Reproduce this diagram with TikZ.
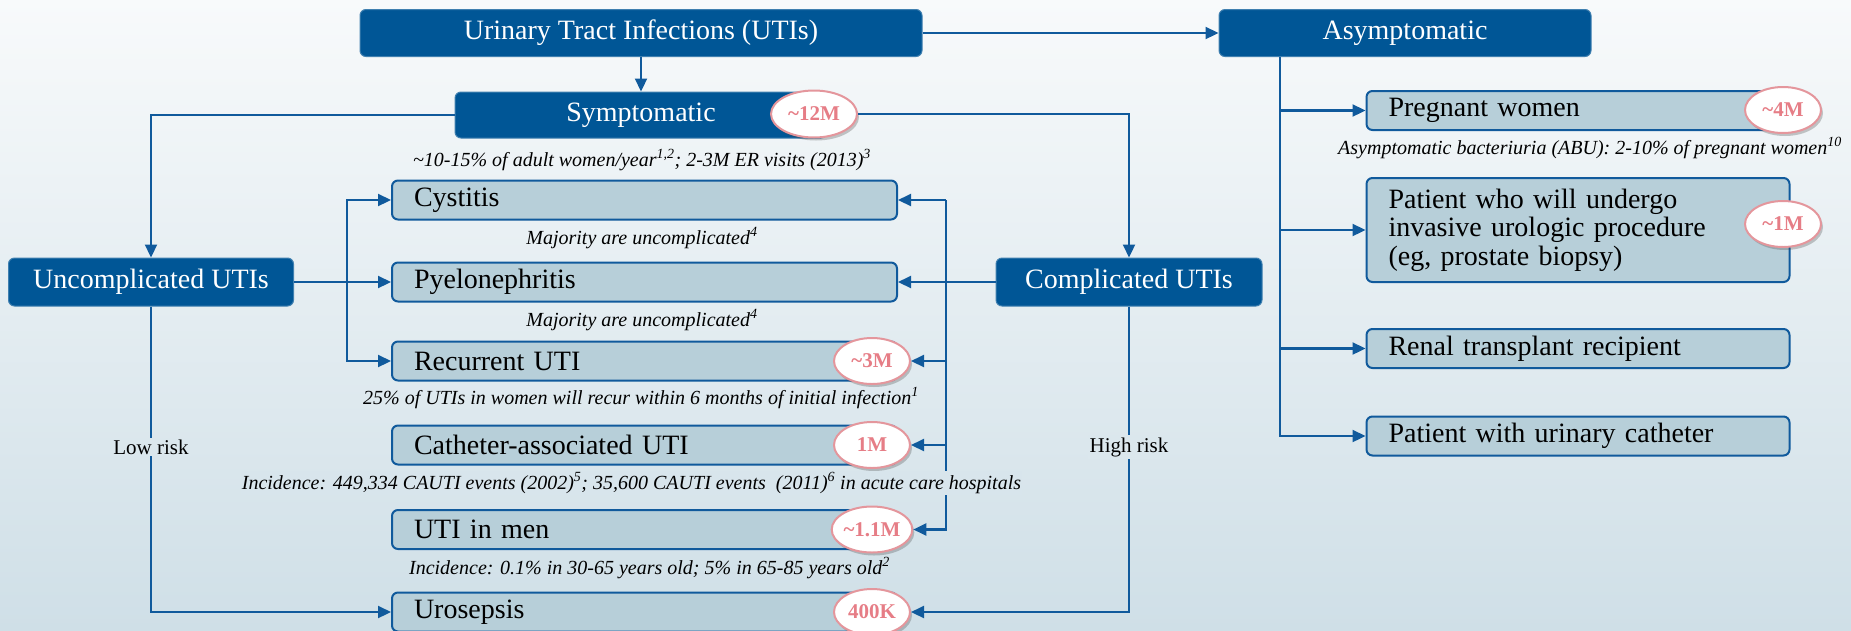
\documentclass[tikz,border=0pt]{standalone}
\usepackage{fontspec}
\setmainfont{Liberation Serif}
\usetikzlibrary{
        arrows.meta,
        positioning,
        shadows,
        shapes.geometric
    }
\definecolor{utiblue}{RGB}{0,86,150}
\definecolor{utiline}{RGB}{16,90,156}
\definecolor{lightfill}{RGB}{183,207,217}
\definecolor{badgeedge}{RGB}{228,150,156}
\definecolor{badgetext}{RGB}{230,125,134}
\definecolor{bgtop}{RGB}{248,250,251}
\definecolor{bgbot}{RGB}{207,223,231}
\tikzset{>={Triangle[length=13pt,width=12pt]}}
\tikzset{
    darkbox/.style={rectangle,rounded corners=6pt,fill=utiblue,draw=utiblue!75!white,
        line width=1pt,text=white,font={\fontsize{28}{32}\selectfont},
        minimum height=47pt,inner sep=0pt},
    lightbox/.style={rectangle,rounded corners=6pt,fill=lightfill,draw=utiline,
        line width=2pt,font={\fontsize{28}{28.5}\selectfont},text width=#1,
        inner xsep=22pt,inner ysep=0pt,minimum height=39pt,align=left},
    lightbox/.default=461pt,
    badge/.style={ellipse,fill=white,draw=badgeedge,line width=2pt,text=badgetext,
        font={\fontsize{21}{21}\selectfont\bfseries},minimum width=76pt,
        minimum height=46pt,inner sep=0pt,
        drop shadow={shadow xshift=2pt,shadow yshift=-3pt,opacity=.3,fill=black!70}},
    note/.style={font={\fontsize{20}{22}\selectfont\itshape},inner sep=1pt},
    risk/.style={font={\fontsize{21}{22}\selectfont},inner sep=2pt},
    conn/.style={->,draw=utiline,line width=2.2pt}
}

\begin{document}
\begin{tikzpicture}[x=1pt,y=-1pt]
    \useasboundingbox (0,0) rectangle (1851,630);
    \shade[top color=bgtop,bottom color=bgbot] (0,0) rectangle (1851,630);

    % top row
    \node[darkbox,minimum width=562pt] (uti)  at (641,33)  {Urinary Tract Infections (UTIs)};
    \node[darkbox,minimum width=372pt] (asym) at (1405,33) {Asymptomatic};
    \node[darkbox,minimum width=372pt,minimum height=46pt] (sym) at (641,115) {Symptomatic};
    \node[badge,minimum width=86pt,minimum height=47pt] (b12) at (814,114) {\textasciitilde12M};
    \node[darkbox,minimum width=285pt,minimum height=48pt] (uncomp) at (151,282) {Uncomplicated UTIs};
    \node[darkbox,minimum width=266pt,minimum height=48pt] (comp)   at (1129,282) {Complicated UTIs};

    % symptomatic types
    \node[lightbox] (cyst)  at (644.5,200)   {Cystitis};
    \node[lightbox] (pyelo) at (644.5,282)   {Pyelonephritis};
    \node[lightbox] (recur) at (644.5,361)   {Recurrent UTI};
    \node[lightbox] (cath)  at (644.5,445)   {Catheter-associated UTI};
    \node[lightbox] (men)   at (644.5,529.5) {UTI in men};
    \node[lightbox] (uro)   at (644.5,612)   {Urosepsis};
    \node[badge] (b3)    at (872,361)   {\textasciitilde3M};
    \node[badge] (bcath) at (872,445)   {1M};
    \node[badge] (bmen)  at (872,529.5) {\textasciitilde1.1M};
    \node[badge] (buro)  at (872,612)   {400K};

    % asymptomatic groups
    \node[lightbox=379pt] (preg)  at (1578,110.5) {Pregnant women};
    \node[lightbox=379pt,minimum height=104pt] (proc) at (1578,230)
        {Patient who will undergo\\invasive urologic procedure\\(eg, prostate biopsy)};
    \node[lightbox=379pt] (renal) at (1578,348.5) {Renal transplant recipient};
    \node[lightbox=379pt] (cathp) at (1578,436)   {Patient with urinary catheter};
    \node[badge] (bpreg) at (1783,110) {\textasciitilde4M};
    \node[badge] (bproc) at (1783,224) {\textasciitilde1M};

    % connectors
    \draw[conn] (uti.south) -- (sym.north);
    \draw[conn] (uti.east) -- (asym.west);
    \draw[conn] (sym.west) -| (uncomp.north);
    \draw[conn] (b12.east) -| (comp.north);

    \coordinate (lbus) at (347,282);
    \draw[conn] (uncomp.east) -- (pyelo.west);
    \draw[conn] (lbus) |- (cyst.west);
    \draw[conn] (lbus) |- (recur.west);

    \coordinate (rbus) at (946,200);
    \draw[conn] (comp.west) -- (pyelo.east);
    \draw[conn] (rbus) -- (cyst.east);
    \foreach \t in {b3,bcath,bmen}
        \draw[conn] (rbus) |- (\t.east);

    \draw[conn] (uncomp.south) |- node[risk,pos=.23,fill=bgbot!71!bgtop] {Low risk} (uro.west);
    \draw[conn] (comp.south) |- node[risk,pos=.23,fill=bgbot!71!bgtop] {High risk} (buro.east);

    \coordinate (trunk) at ([xshift=-125pt]asym.south);
    \foreach \t in {preg,proc,renal,cathp}
        \draw[conn] (trunk) |- (\t.west);

    % notes
    \node[note] (symnote)   at (642,160) {\textasciitilde10-15\% of adult women/year\textsuperscript{1,2}; 2-3M ER visits (2013)\textsuperscript{3}};
    \node[note] (cystnote)  at (642,238) {Majority are uncomplicated\textsuperscript{4}};
    \node[note] (pyelonote) at (642,320) {Majority are uncomplicated\textsuperscript{4}};
    \node[note] (recurnote) at (641,398) {25\% of UTIs in women will recur within 6 months of initial infection\textsuperscript{1}};
    \node[note,fill=bgbot!77!bgtop] (cathnote) at (631.5,483)
        {Incidence: 449,334 CAUTI events (2002)\textsuperscript{5}; 35,600 CAUTI events\ \ (2011)\textsuperscript{6} in acute care hospitals};
    \node[note] (mennote)   at (649.5,568) {Incidence: 0.1\% in 30-65 years old; 5\% in 65-85 years old\textsuperscript{2}};
    \node[note] (pregnote)  at (1590,148) {Asymptomatic bacteriuria (ABU): 2-10\% of pregnant women\textsuperscript{10}};
\end{tikzpicture}
\end{document}
